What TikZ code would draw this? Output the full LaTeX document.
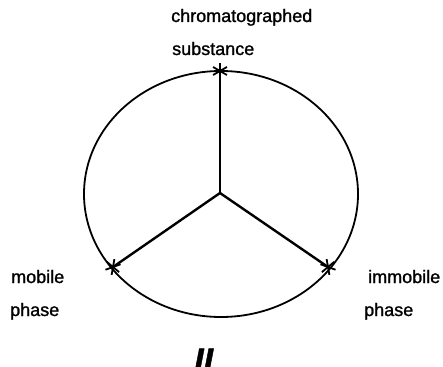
\documentclass[tikz,border=0pt]{standalone}
\usepackage{fontspec}
\setmainfont{Liberation Sans}[FakeBold=1.2]
\begin{document}
\begin{tikzpicture}[x=1pt,y=-1pt,
  lbl/.style={anchor=base west,inner sep=0pt,font=\fontsize{18}{20}\selectfont},
  rim/.style={line width=1.8pt},
  spoke/.style={line width=2.4pt},
  thinspoke/.style={line width=1.5pt},
  starline/.style={line width=1.8pt}]
\useasboundingbox (0,0) rectangle (443,366);
\draw[rim] (221,194) ellipse [x radius=137, y radius=123];
\coordinate (c) at (220,193);
\coordinate (s) at (220,71);
\coordinate (m) at (113,267);
\coordinate (i) at (328,267);
\draw[thinspoke] (c) -- (s);
\draw[spoke] (c) -- (m);
\draw[spoke] (c) -- (i);
\foreach \p/\r in {s/0, m/10, i/-10}{
  \foreach \a in {90,30,150}{
    \draw[starline] (\p) ++(\a+\r:8) -- ++(\a+\r+180:16);
  }
}
\node[lbl] (t1) at (171,22) {chromatographed};
\node[lbl] (t2) at (172,55) {substance};
\node[lbl] (t3) at (11,283) {mobile};
\node[lbl] (t4) at (10,316) {phase};
\node[lbl] (t5) at (368,283) {immobile};
\node[lbl] (t6) at (364,316) {phase};
\node[anchor=base west,inner sep=0pt,font=\fontsize{34}{34}\selectfont\bfseries\itshape] (t7) at (194,372) {II};
\end{tikzpicture}
\end{document}
